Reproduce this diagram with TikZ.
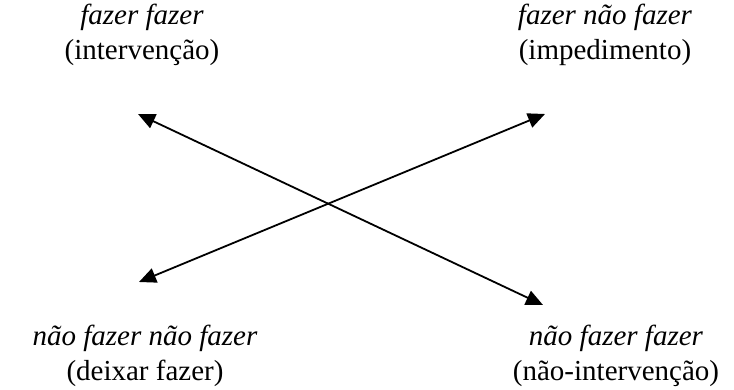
\documentclass[tikz,border=0pt]{standalone}
\usepackage{fontspec}
\setmainfont{Liberation Serif}
\usetikzlibrary{arrows.meta}
\begin{document}
\begin{tikzpicture}[x=1pt,y=1pt,
  lbl/.style={align=center,font=\fontsize{29}{35}\selectfont,inner sep=0pt},
  conn/.style={line width=1.8pt,{Triangle[length=17pt,width=15pt]}-{Triangle[length=17pt,width=15pt]}}]
\useasboundingbox (0,0) rectangle (734,390);
\node[lbl] (tl) at (142,355) {\textit{fazer fazer}\\(intervenção)};
\node[lbl] (tr) at (605,355) {\textit{fazer não fazer}\\(impedimento)};
\node[lbl] (bl) at (145,34) {\textit{não fazer não fazer}\\(deixar fazer)};
\node[lbl] (br) at (616,34) {\textit{não fazer fazer}\\(não-intervenção)};
\coordinate (a1) at (138,276);
\coordinate (a2) at (543,85);
\coordinate (b1) at (545,276);
\coordinate (b2) at (139,108);
\draw[conn] (a1) -- (a2);
\draw[conn] (b2) -- (b1);
\end{tikzpicture}
\end{document}
